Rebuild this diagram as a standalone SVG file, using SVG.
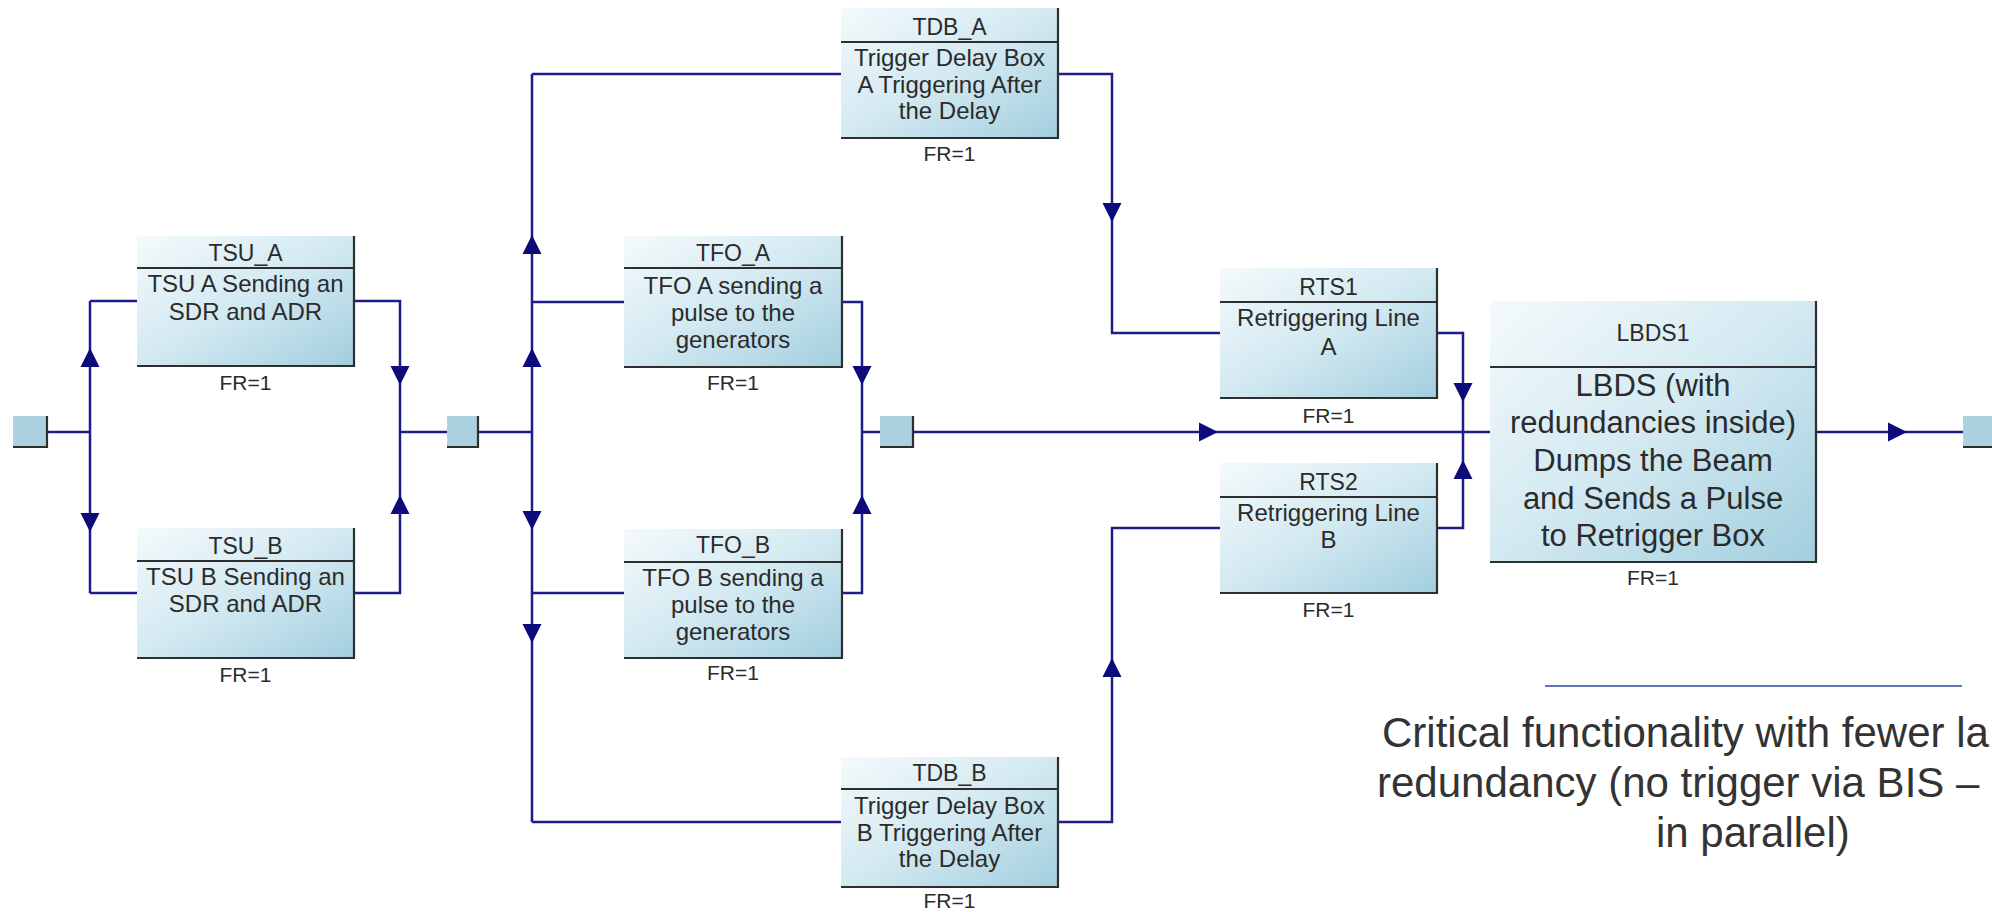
<svg xmlns="http://www.w3.org/2000/svg" xmlns:xlink="http://www.w3.org/1999/xlink" width="1992" height="912" viewBox="0 0 1992 912">
<style>
.box{fill:url(#bg)}
.ed{stroke:#2e2e2e;stroke-width:2.2;fill:none}
.sq{fill:#a9d2de}
.ttl{font-family:"Liberation Sans",Arial,sans-serif;font-size:23px;fill:#2b2b2b;text-anchor:middle}
.bd{font-family:"Liberation Sans",Arial,sans-serif;font-size:24px;fill:#2b2b2b;text-anchor:middle}
.big{font-family:"Liberation Sans",Arial,sans-serif;font-size:31px;fill:#2b2b2b;text-anchor:middle}
.fr{font-family:"Liberation Sans",Arial,sans-serif;font-size:21px;fill:#2b2b2b;text-anchor:middle}
.cap{font-family:"Liberation Sans",Arial,sans-serif;font-size:42px;fill:#333333}
.cn{stroke:#1c1c8a;stroke-width:2.5;fill:none}
.ah{fill:#0b0b7a}
</style>
<defs>
<linearGradient id="bg" x1="0" y1="0" x2="1" y2="1">
<stop offset="0" stop-color="#f4fafc"/>
<stop offset="0.5" stop-color="#d3e9f1"/>
<stop offset="1" stop-color="#a2cede"/>
</linearGradient>
<path id="ah" class="ah" d="M0,0 L-19,-9.5 L-19,9.5 Z"/>
</defs>
<rect width="1992" height="912" fill="#ffffff"/>

<g id="connectors">
<path class="cn" d="M47,432 H90 M90,301 V593 M90,301 H137 M90,593 H137"/>
<path class="cn" d="M354,301 H400 V593 H354 M400,432 H447"/>
<path class="cn" d="M478,432 H532 M532,74 V822 M532,74 H841 M532,302 H624 M532,593 H624 M532,822 H841"/>
<path class="cn" d="M842,302 H862 V593 H842 M862,432 H880"/>
<path class="cn" d="M913,432 H1490"/>
<path class="cn" d="M1058,74 H1112 V333 H1220"/>
<path class="cn" d="M1058,822 H1112 V528 H1220"/>
<path class="cn" d="M1437,333 H1463 V528 H1437"/>
<path class="cn" d="M1816,432 H1963"/>
<use xlink:href="#ah" transform="translate(90,348) rotate(-90)"/>
<use xlink:href="#ah" transform="translate(90,532) rotate(90)"/>
<use xlink:href="#ah" transform="translate(400,385) rotate(90)"/>
<use xlink:href="#ah" transform="translate(400,495) rotate(-90)"/>
<use xlink:href="#ah" transform="translate(532,235) rotate(-90)"/>
<use xlink:href="#ah" transform="translate(532,348) rotate(-90)"/>
<use xlink:href="#ah" transform="translate(532,530) rotate(90)"/>
<use xlink:href="#ah" transform="translate(532,643) rotate(90)"/>
<use xlink:href="#ah" transform="translate(862,385) rotate(90)"/>
<use xlink:href="#ah" transform="translate(862,495) rotate(-90)"/>
<use xlink:href="#ah" transform="translate(1218,432)"/>
<use xlink:href="#ah" transform="translate(1112,222) rotate(90)"/>
<use xlink:href="#ah" transform="translate(1112,658) rotate(-90)"/>
<use xlink:href="#ah" transform="translate(1463,402) rotate(90)"/>
<use xlink:href="#ah" transform="translate(1463,460) rotate(-90)"/>
<use xlink:href="#ah" transform="translate(1907,432)"/>
</g>

<g id="in">
<rect class="sq" x="13" y="416" width="34" height="31"/>
<path class="ed" d="M47,416 V447 H13"/>
</g>
<g id="j1">
<rect class="sq" x="447" y="416" width="31" height="31"/>
<path class="ed" d="M478,416 V447 H447"/>
</g>
<g id="j2">
<rect class="sq" x="880" y="416" width="33" height="31"/>
<path class="ed" d="M913,416 V447 H880"/>
</g>
<g id="out">
<rect class="sq" x="1963" y="416" width="33" height="31"/>
<path class="ed" d="M1963,447 H1996"/>
</g>

<g id="TSU_A">
<rect class="box" x="137" y="236" width="217" height="130"/>
<path class="ed" d="M354,236 V366 H137 M137,268 H354"/>
<text class="ttl" x="245.5" y="261">TSU_A</text>
<text class="bd" x="245.5" y="292">TSU A Sending an</text>
<text class="bd" x="245.5" y="320">SDR and ADR</text>
<text class="fr" x="245.5" y="389.5">FR=1</text>
</g>
<g id="TSU_B">
<rect class="box" x="137" y="528" width="217" height="130"/>
<path class="ed" d="M354,528 V658 H137 M137,561 H354"/>
<text class="ttl" x="245.5" y="554">TSU_B</text>
<text class="bd" x="245.5" y="585">TSU B Sending an</text>
<text class="bd" x="245.5" y="612">SDR and ADR</text>
<text class="fr" x="245.5" y="681.5">FR=1</text>
</g>
<g id="TFO_A">
<rect class="box" x="624" y="236" width="218" height="131"/>
<path class="ed" d="M842,236 V367 H624 M624,268 H842"/>
<text class="ttl" x="733" y="261">TFO_A</text>
<text class="bd" x="733" y="293.5">TFO A sending a</text>
<text class="bd" x="733" y="320.5">pulse to the</text>
<text class="bd" x="733" y="347.5">generators</text>
<text class="fr" x="733" y="389.5">FR=1</text>
</g>
<g id="TFO_B">
<rect class="box" x="624" y="529" width="218" height="129"/>
<path class="ed" d="M842,529 V658 H624 M624,562 H842"/>
<text class="ttl" x="733" y="553">TFO_B</text>
<text class="bd" x="733" y="586">TFO B sending a</text>
<text class="bd" x="733" y="613">pulse to the</text>
<text class="bd" x="733" y="640">generators</text>
<text class="fr" x="733" y="680">FR=1</text>
</g>
<g id="TDB_A">
<rect class="box" x="841" y="8" width="217" height="130"/>
<path class="ed" d="M1058,8 V138 H841 M841,42 H1058"/>
<text class="ttl" x="949.5" y="35">TDB_A</text>
<text class="bd" x="949.5" y="65.5">Trigger Delay Box</text>
<text class="bd" x="949.5" y="92.5">A Triggering After</text>
<text class="bd" x="949.5" y="119">the Delay</text>
<text class="fr" x="949.5" y="160.5">FR=1</text>
</g>
<g id="TDB_B">
<rect class="box" x="841" y="757" width="217" height="130"/>
<path class="ed" d="M1058,757 V887 H841 M841,789 H1058"/>
<text class="ttl" x="949.5" y="781">TDB_B</text>
<text class="bd" x="949.5" y="813.5">Trigger Delay Box</text>
<text class="bd" x="949.5" y="840.5">B Triggering After</text>
<text class="bd" x="949.5" y="867">the Delay</text>
<text class="fr" x="949.5" y="907.5">FR=1</text>
</g>
<g id="RTS1">
<rect class="box" x="1220" y="268" width="217" height="130"/>
<path class="ed" d="M1437,268 V398 H1220 M1220,302 H1437"/>
<text class="ttl" x="1328.5" y="295">RTS1</text>
<text class="bd" x="1328.5" y="326">Retriggering Line</text>
<text class="bd" x="1328.5" y="355">A</text>
<text class="fr" x="1328.5" y="422.5">FR=1</text>
</g>
<g id="RTS2">
<rect class="box" x="1220" y="463" width="217" height="130"/>
<path class="ed" d="M1437,463 V593 H1220 M1220,497 H1437"/>
<text class="ttl" x="1328.5" y="490">RTS2</text>
<text class="bd" x="1328.5" y="520.5">Retriggering Line</text>
<text class="bd" x="1328.5" y="547.5">B</text>
<text class="fr" x="1328.5" y="616.5">FR=1</text>
</g>
<g id="LBDS1">
<rect class="box" x="1490" y="301" width="326" height="261"/>
<path class="ed" d="M1816,301 V562 H1490 M1490,367 H1816"/>
<text class="ttl" x="1653" y="341">LBDS1</text>
<text class="big" x="1653" y="396">LBDS (with</text>
<text class="big" x="1653" y="433">redundancies inside)</text>
<text class="big" x="1653" y="471">Dumps the Beam</text>
<text class="big" x="1653" y="509">and Sends a Pulse</text>
<text class="big" x="1653" y="546">to Retrigger Box</text>
<text class="fr" x="1653" y="584.5">FR=1</text>
</g>

<g id="caption">
<line x1="1545" y1="686" x2="1962" y2="686" stroke="#2a4a9a" stroke-width="1.6"/>
<text class="cap" x="1382" y="747">Critical functionality with fewer la</text>
<text class="cap" x="1377" y="797">redundancy (no trigger via BIS –</text>
<text class="cap" x="1656" y="847">in parallel)</text>
</g>
</svg>
